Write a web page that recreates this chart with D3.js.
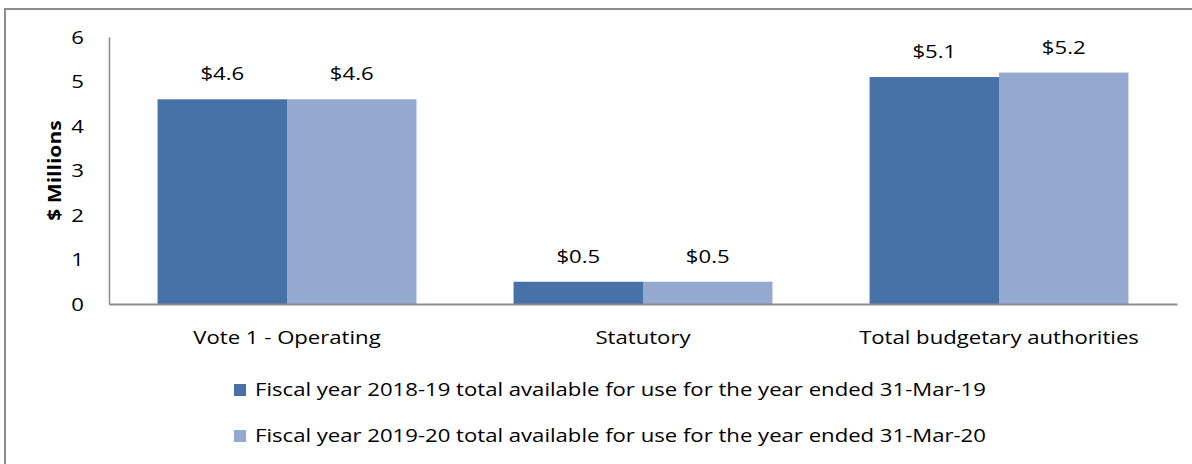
<!DOCTYPE html>
<html lang="en">
<head>
    <meta charset="UTF-8">
    <title>Budgetary authorities</title>
    <script src="https://d3js.org/d3.v7.min.js"></script>
    <style>
        body { margin: 0; background: #fff; }
        svg { display: block; }
        text { font-family: "Open Sans", sans-serif; fill: #000; }
    </style>
</head>
<body>
    <script>
        const categories = ["Vote 1 - Operating", "Statutory", "Total budgetary authorities"]
        const seriesNames = [
            "Fiscal year 2018-19 total available for use for the year ended 31-Mar-19",
            "Fiscal year 2019-20 total available for use for the year ended 31-Mar-20"
        ]
        const values2019 = [4.6, 0.5, 5.1]
        const values2020 = [4.6, 0.5, 5.2]
        const yTicks = [0, 1, 2, 3, 4, 5, 6]
        const colors = ["#4672a7", "#95a9d0"]

        const width = 1192
        const height = 464
        const fs = "18px"
        const wide = 1.23 // the source text is set wider than Open Sans

        // move x/y into a transform so the glyphs can be widened around their anchor
        function stretch(sel, s) {
            sel.each(function () {
                let t = d3.select(this)
                let tx = +t.attr("x") || 0, ty = +t.attr("y") || 0
                t.attr("x", 0).attr("y", 0)
                    .attr("transform", `translate(${tx},${ty}) scale(${s},1)`)
            })
        }

        let svg = d3.select("body").append("svg")
            .attr("width", width)
            .attr("height", height)

        // outer chart frame (runs off the right / bottom edge)
        svg.append("rect")
            .attr("x", 5).attr("y", 9)
            .attr("width", width + 20).attr("height", height + 20)
            .attr("fill", "none")
            .attr("stroke", "#8c8c8c")
            .attr("stroke-width", 2)

        let x = d3.scaleBand()
            .domain(categories)
            .range([109, 1177])

        // Excel style: gap width 75% of one bar
        const barW = x.bandwidth() / 2.75
        let xs = d3.scaleBand()
            .domain([0, 1])
            .range([0, barW * 2])

        let y = d3.scaleLinear()
            .domain([0, 6])
            .range([304, 37])

        const data = categories.map((c, i) => ({ cat: c, vals: [values2019[i], values2020[i]] }))

        let groups = svg.selectAll(".grp")
            .data(data)
            .enter()
            .append("g")
            .attr("transform", d => `translate(${x(d.cat) + x.bandwidth() / 2 - barW},0)`)

        groups.selectAll("rect")
            .data(d => d.vals)
            .enter()
            .append("rect")
            .attr("x", (d, i) => xs(i))
            .attr("y", d => y(d))
            .attr("width", xs.bandwidth())
            .attr("height", d => y(0) - y(d))
            .attr("fill", (d, i) => colors[i])

        let valueLabels = groups.selectAll(".lbl")
            .data(d => d.vals)
            .enter()
            .append("text")
            .attr("x", (d, i) => xs(i) + xs.bandwidth() / 2)
            .attr("y", d => y(d) - 19)
            .attr("text-anchor", "middle")
            .style("font-size", fs)
            .text(d => "$" + d.toFixed(1))
        stretch(valueLabels, wide)

        // axes
        let yAxis = svg.append("g")
            .attr("transform", "translate(109,0)")
            .call(d3.axisLeft(y).tickValues(yTicks).tickFormat(d3.format("d")).tickSize(0).tickPadding(25))
        yAxis.select(".domain").attr("stroke", "#8c8c8c").attr("stroke-width", 1.5)
        yAxis.selectAll("text").style("font-size", fs).attr("dy", "0.35em")
        stretch(yAxis.selectAll("text"), wide)

        let xAxis = svg.append("g")
            .attr("transform", `translate(0,${y(0)})`)
            .call(d3.axisBottom(x).tickSize(0).tickPadding(27))
        xAxis.select(".domain").attr("stroke", "#8c8c8c").attr("stroke-width", 2)
        xAxis.selectAll("text").style("font-size", fs)
        stretch(xAxis.selectAll("text"), wide)

        svg.append("text")
            .attr("transform", `translate(61,${(y(0) + y(6)) / 2}) rotate(-90) scale(1.17,1)`)
            .attr("text-anchor", "middle")
            .style("font-size", fs)
            .style("font-weight", "bold")
            .text("$ Millions")

        // legend
        let legend = svg.selectAll(".leg")
            .data(seriesNames)
            .enter()
            .append("g")
            .attr("transform", (d, i) => `translate(234,${384 + i * 46})`)
        legend.append("rect")
            .attr("width", 12).attr("height", 12)
            .attr("fill", (d, i) => colors[i])
        let legendText = legend.append("text")
            .attr("x", 21).attr("y", 6)
            .attr("dy", "0.35em")
            .style("font-size", fs)
            .text(d => d)
        stretch(legendText, wide)
    </script>
</body>
</html>
